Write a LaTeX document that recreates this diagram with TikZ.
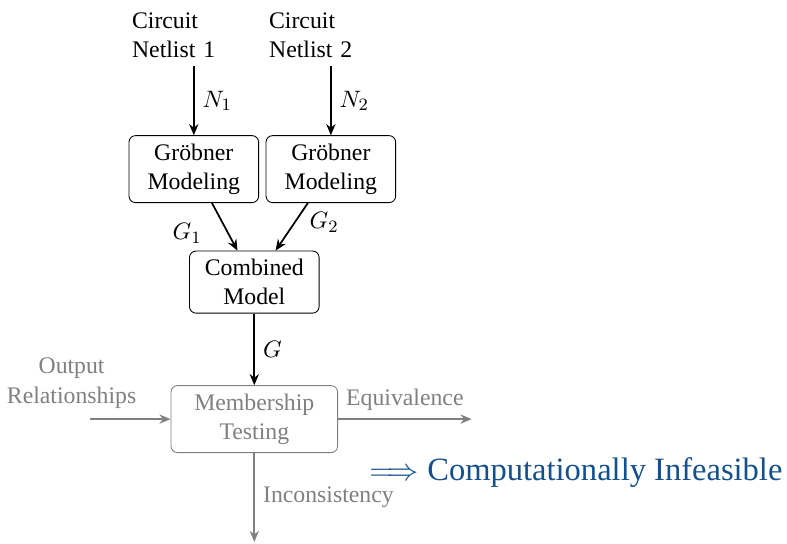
\documentclass[tikz,border=0pt,11pt]{standalone}
\usepackage{amsmath,amssymb}
\usepackage[no-math]{fontspec}
\setmainfont{Liberation Serif}
\usepackage{tikz}
\usetikzlibrary{positioning, arrows.meta}

\definecolor{infeasblue}{RGB}{20,80,140}

\begin{document}
\begin{tikzpicture}[on grid, auto,
    block/.style={draw, rounded corners=3pt, align=center, minimum width=2.1cm},
    greyblock/.style={block, draw=gray, text=gray, minimum width=2.7cm},
    flow/.style={->, >={Stealth[length=1.8mm, width=1.5mm]}, thick},
    greyflow/.style={flow, gray}]
   \useasboundingbox (0,0) rectangle (12.75,8.8);

   % Testing stage
   \node[greyblock] (mem) at (4.12,2.01) {Membership\\Testing};
   \node[block] (comb) [above=2.22cm of mem] {Combined\\Model};

   % Modeling of the two netlists
   \node[block] (gb1) [above left=1.83cm and 0.98cm of comb] {Gröbner\\Modeling};
   \node[block] (gb2) [above right=1.83cm and 1.24cm of comb] {Gröbner\\Modeling};
   \node[text width=2cm, align=left] (net1) [above=2.17cm of gb1] {Circuit\\Netlist 1};
   \node[text width=2cm, align=left] (net2) [above=2.17cm of gb2] {Circuit\\Netlist 2};

   % Free ends
   \coordinate[left=2.66cm of mem] (in);
   \coordinate[right=3.52cm of mem] (out);
   \coordinate[below=1.99cm of mem] (bad);
   \node[text=gray, align=center] (rel) [above left=0.58cm and 2.96cm of mem] {Output\\Relationships};
   \node[text=infeasblue, font=\fontsize{15}{18}\selectfont] (infeas) [below right=0.86cm and 5.21cm of mem]
      {$\Longrightarrow$ Computationally Infeasible};

   % Transitions
   \path[flow]
    (net1) edge node {$N_1$} (gb1)
    (net2) edge node {$N_2$} (gb2)
    (gb1) edge node[left, pos=0.64, xshift=-0.29cm] {$G_1$} (comb)
    (gb2) edge node[right, pos=0.41, xshift=0.1cm] {$G_2$} (comb)
    (comb) edge node {$G$} (mem);
   \path[greyflow]
    (in) edge (mem)
    (mem) edge node[text=gray] {Equivalence} (out)
    (mem) edge node[text=gray] {Inconsistency} (bad);
\end{tikzpicture}
\end{document}
